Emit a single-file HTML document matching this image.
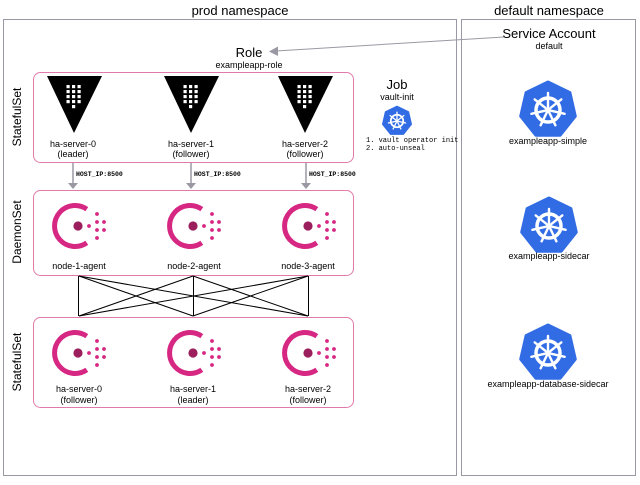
<!DOCTYPE html>
<html><head><meta charset="utf-8"><style>
body{margin:0;background:#fff;}
text{font-family:"Liberation Sans","DejaVu Sans",sans-serif;fill:#000;}
.m{font-family:"Liberation Mono","DejaVu Sans Mono",monospace;}
</style></head><body>
<svg width="640" height="480" viewBox="0 0 640 480" xmlns="http://www.w3.org/2000/svg">
<defs>
<g id="vault">
<polygon points="-27,0 28,0 0,57" fill="#000"/>
<g fill="#fff">
<rect x="-7.5" y="9" width="3.2" height="3.2"/><rect x="-2" y="9" width="3.2" height="3.2"/><rect x="3.5" y="9" width="3.2" height="3.2"/>
<rect x="-7.5" y="14" width="3.2" height="3.2"/><rect x="-2" y="14" width="3.2" height="3.2"/><rect x="3.5" y="14" width="3.2" height="3.2"/>
<rect x="-7.5" y="19" width="3.2" height="3.2"/><rect x="-2" y="19" width="3.2" height="3.2"/><rect x="3.5" y="19" width="3.2" height="3.2"/>
<rect x="-7.5" y="24" width="3.2" height="3.2"/><rect x="-2" y="24" width="3.2" height="3.2"/><rect x="3.5" y="24" width="3.2" height="3.2"/>
<rect x="-2" y="29" width="3.2" height="3.2"/>
</g>
</g>
<g id="consul">
<path d="M11.8,-16.8 A20.5,20.5 0 1 0 11.8,16.8" fill="none" stroke="#d62783" stroke-width="5"/>
<circle cx="3" cy="0" r="4.6" fill="#9b1f5c"/>
<g fill="#d62783">
<circle cx="14" cy="0" r="1.9"/>
<circle cx="22" cy="-12" r="1.9"/><circle cx="22" cy="-4" r="1.9"/><circle cx="22" cy="4" r="1.9"/><circle cx="22" cy="12" r="1.9"/>
<circle cx="29" cy="-4" r="1.9"/><circle cx="29" cy="4" r="1.9"/>
</g>
</g>
<g id="k8s">
<polygon points="0,-28 21.9,-17.4 27.3,6.2 12.2,25.2 -12.2,25.2 -27.3,6.2 -21.9,-17.4" fill="#326ce5" stroke="#326ce5" stroke-width="3" stroke-linejoin="round"/>
<g stroke="#fff" fill="none">
<circle cx="0" cy="0" r="12" stroke-width="3.5"/>
<g stroke-width="2.4" stroke-linecap="round">
<line x1="0" y1="-3" x2="0" y2="-17"/>
<line x1="2.3" y1="-1.9" x2="13.3" y2="-10.6"/>
<line x1="2.9" y1="0.7" x2="16.6" y2="3.8"/>
<line x1="1.3" y1="2.7" x2="7.4" y2="15.3"/>
<line x1="-1.3" y1="2.7" x2="-7.4" y2="15.3"/>
<line x1="-2.9" y1="0.7" x2="-16.6" y2="3.8"/>
<line x1="-2.3" y1="-1.9" x2="-13.3" y2="-10.6"/>
</g>
</g>
<circle cx="0" cy="0" r="2.8" fill="#fff"/>
</g>
</defs>

<text x="240" y="15" font-size="13" text-anchor="middle">prod namespace</text>
<text x="549" y="15" font-size="13" text-anchor="middle">default namespace</text>
<rect x="3.5" y="19.5" width="453" height="456" fill="none" stroke="#9a99a3" stroke-width="1"/>
<rect x="461.5" y="19.5" width="174" height="456" fill="none" stroke="#9a99a3" stroke-width="1"/>

<text x="549" y="38" font-size="13" text-anchor="middle">Service Account</text>
<text x="549" y="49" font-size="9" text-anchor="middle">default</text>
<line x1="504" y1="37" x2="276" y2="51" stroke="#9a99a3" stroke-width="1"/>
<polygon points="269,51.5 278,46.5 278,56" fill="#9a99a3"/>
<text x="249" y="57" font-size="13" text-anchor="middle">Role</text>
<text x="249" y="68" font-size="9" text-anchor="middle">exampleapp-role</text>

<text transform="translate(21,117) rotate(-90)" font-size="12" text-anchor="middle">StatefulSet</text>
<text transform="translate(21,232) rotate(-90)" font-size="12" text-anchor="middle">DaemonSet</text>
<text transform="translate(21,362) rotate(-90)" font-size="12" text-anchor="middle">StatefulSet</text>

<rect x="33.5" y="72.5" width="320" height="90" rx="7" fill="none" stroke="#e07aa9" stroke-width="1"/>
<rect x="33.5" y="190.5" width="320" height="85" rx="7" fill="none" stroke="#e07aa9" stroke-width="1"/>
<rect x="33.5" y="317.5" width="320" height="90" rx="7" fill="none" stroke="#e07aa9" stroke-width="1"/>

<use href="#vault" x="74" y="76"/>
<use href="#vault" x="191" y="76"/>
<use href="#vault" x="305" y="76"/>
<g font-size="9" text-anchor="middle">
<text x="73" y="147">ha-server-0</text><text x="73" y="157">(leader)</text>
<text x="191" y="147">ha-server-1</text><text x="191" y="157">(follower)</text>
<text x="305" y="147">ha-server-2</text><text x="305" y="157">(follower)</text>
</g>

<g stroke="#9a99a3" stroke-width="1.5">
<line x1="73" y1="163" x2="73" y2="183"/><line x1="191" y1="163" x2="191" y2="183"/><line x1="306" y1="163" x2="306" y2="183"/>
</g>
<g fill="#9a99a3">
<polygon points="68,183 78,183 73,189"/><polygon points="186,183 196,183 191,189"/><polygon points="301,183 311,183 306,189"/>
</g>
<text class="m" x="76" y="176" font-size="6.5" font-weight="bold">HOST_IP:8500</text>
<text class="m" x="194" y="176" font-size="6.5" font-weight="bold">HOST_IP:8500</text>
<text class="m" x="309" y="176" font-size="6.5" font-weight="bold">HOST_IP:8500</text>

<text x="397" y="89" font-size="13" text-anchor="middle">Job</text>
<text x="397" y="100" font-size="9" text-anchor="middle">vault-init</text>
<use href="#k8s" transform="translate(397,121) scale(0.52)"/>
<text class="m" x="366" y="142" font-size="7">1. vault operator init</text>
<text class="m" x="366" y="150" font-size="7">2. auto-unseal</text>

<use href="#consul" x="75" y="226"/>
<use href="#consul" x="190" y="226"/>
<use href="#consul" x="305" y="226"/>
<g font-size="9" text-anchor="middle">
<text x="79" y="269">node-1-agent</text>
<text x="194" y="269">node-2-agent</text>
<text x="308" y="269">node-3-agent</text>
</g>

<g stroke="#000" stroke-width="1">
<line x1="78.5" y1="276" x2="78.5" y2="316"/><line x1="193.5" y1="276" x2="193.5" y2="316"/><line x1="308.5" y1="276" x2="308.5" y2="316"/>
<line x1="79" y1="276" x2="193" y2="316"/><line x1="79" y1="276" x2="308" y2="316"/>
<line x1="193" y1="276" x2="79" y2="316"/><line x1="193" y1="276" x2="308" y2="316"/>
<line x1="308" y1="276" x2="79" y2="316"/><line x1="308" y1="276" x2="193" y2="316"/>
</g>

<use href="#consul" x="75" y="353"/>
<use href="#consul" x="190" y="353"/>
<use href="#consul" x="305" y="353"/>
<g font-size="9" text-anchor="middle">
<text x="79" y="392">ha-server-0</text><text x="79" y="403">(follower)</text>
<text x="193" y="392">ha-server-1</text><text x="193" y="403">(leader)</text>
<text x="308" y="392">ha-server-2</text><text x="308" y="403">(follower)</text>
</g>

<use href="#k8s" x="548" y="110"/>
<use href="#k8s" x="549" y="226"/>
<use href="#k8s" x="548" y="353"/>
<g font-size="9" text-anchor="middle">
<text x="548" y="144">exampleapp-simple</text>
<text x="549" y="259">exampleapp-sidecar</text>
<text x="548" y="387">exampleapp-database-sidecar</text>
</g>
</svg>
</body></html>
